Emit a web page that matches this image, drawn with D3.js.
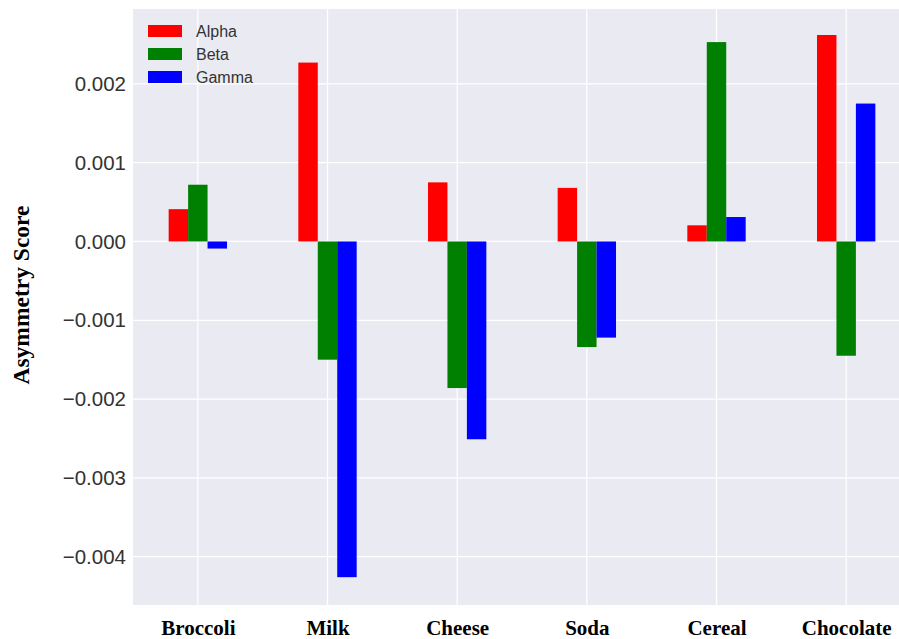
<!DOCTYPE html>
<html><head><meta charset="utf-8">
<script src="https://cdn.jsdelivr.net/npm/d3@7"></script>
<style>body{margin:0;background:#fff;overflow:hidden}</style>
</head><body>
<svg id="chart" width="899" height="639"></svg>
<script>
const categories = ["Broccoli","Milk","Cheese","Soda","Cereal","Chocolate"];
const seriesNames = ["Alpha","Beta","Gamma"];
const seriesColors = ["#ff0000","#008000","#0000ff"];
const alpha = [0.00041, 0.00227, 0.00075, 0.00068, 0.000205, 0.00262];
const beta  = [0.00072, -0.00150, -0.00186, -0.00134, 0.00253, -0.00145];
const gamma = [-0.00009, -0.00426, -0.00251, -0.00122, 0.00031, 0.00175];
const yTicks = [0.002, 0.001, 0.000, -0.001, -0.002, -0.003, -0.004];
const yLabel = "Asymmetry Score";

const series = [alpha, beta, gamma];
const svg = d3.select("#chart");
const L = 133, R = 911, T = 9, B = 605;

const x = d3.scaleLinear().domain([-0.5, categories.length - 0.5]).range([L, R]);
const y = d3.scaleLinear().domain([-0.004613, 0.00295]).range([B, T]);

svg.append("rect").attr("x", L).attr("y", T).attr("width", R - L).attr("height", B - T).attr("fill", "#eaeaf2");

// grid
svg.append("g").selectAll("line").data(yTicks).join("line")
  .attr("x1", L).attr("x2", R).attr("y1", d => y(d)).attr("y2", d => y(d))
  .attr("stroke", "#fff").attr("stroke-width", 1.3);
svg.append("g").selectAll("line").data(categories).join("line")
  .attr("x1", (d,i) => x(i)).attr("x2", (d,i) => x(i)).attr("y1", T).attr("y2", B)
  .attr("stroke", "#fff").attr("stroke-width", 1.3);

// bars
const groupW = 0.45, bw = groupW / 3;
series.forEach((vals, s) => {
  svg.append("g").selectAll("rect").data(vals).join("rect")
    .attr("x", (d,i) => x(i - groupW/2 + s*bw))
    .attr("width", x(bw) - x(0))
    .attr("y", d => y(Math.max(0, d)))
    .attr("height", d => Math.abs(y(d) - y(0)))
    .attr("fill", seriesColors[s]);
});

// y axis
const yAxis = d3.axisLeft(y).tickValues(yTicks).tickSize(0).tickPadding(7)
  .tickFormat(d => d3.format(".3f")(d).replace("-", "\u2212"));
const ya = svg.append("g").attr("transform", `translate(${L},0)`).call(yAxis);
ya.select(".domain").remove();
ya.selectAll("text").attr("font-family", "'Liberation Sans', Arial, sans-serif")
  .attr("font-size", 20.5).attr("fill", "#333");

// x axis
const xAxis = d3.axisBottom(x).tickValues(d3.range(categories.length)).tickSize(0).tickPadding(15)
  .tickFormat(i => categories[i]);
const xa = svg.append("g").attr("transform", `translate(0,${B})`).call(xAxis);
xa.select(".domain").remove();
xa.selectAll("text").attr("font-family", "'Liberation Serif', 'Times New Roman', serif")
  .attr("font-weight", "bold").attr("font-size", 21).attr("fill", "#000");

// y label
svg.append("text").attr("transform", "translate(29,295) rotate(-90)")
  .attr("text-anchor", "middle")
  .attr("font-family", "'Liberation Serif', 'Times New Roman', serif")
  .attr("font-weight", "bold").attr("font-size", 23.5).attr("fill", "#000")
  .text(yLabel);

// legend
const lg = svg.append("g");
seriesNames.forEach((n, i) => {
  const yy = 31 + i * 23;
  lg.append("rect").attr("x", 148).attr("y", yy - 6).attr("width", 34).attr("height", 12).attr("fill", seriesColors[i]);
  lg.append("text").attr("x", 196).attr("y", yy + 5.5).attr("font-family", "'Liberation Sans', Arial, sans-serif")
    .attr("font-size", 16).attr("fill", "#333").text(n);
});
</script>
</body></html>
